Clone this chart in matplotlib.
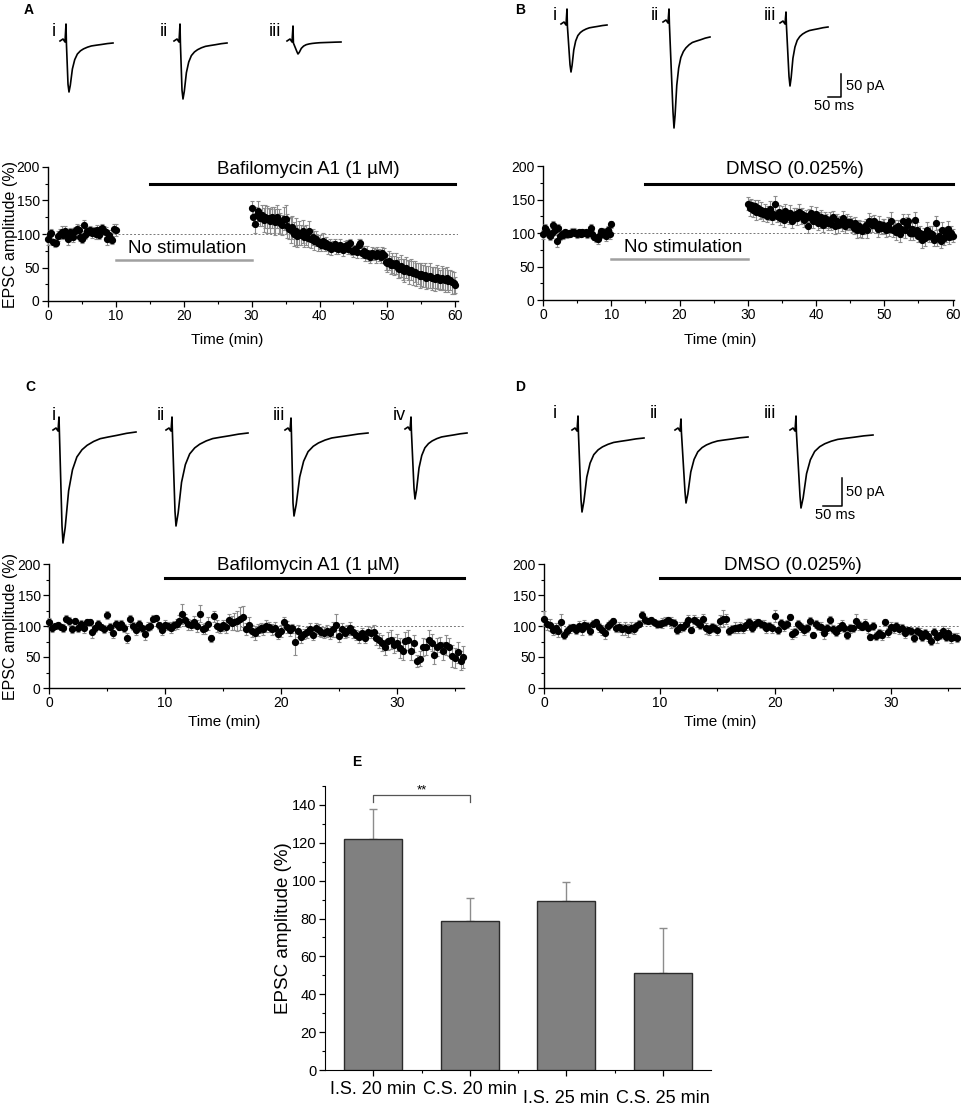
import numpy as np
import matplotlib
matplotlib.use('Agg')
import matplotlib.pyplot as plt
from matplotlib.transforms import blended_transform_factory

plt.rcParams['font.family'] = ['Liberation Sans', 'DejaVu Sans']

W, H = 961, 1108

# ---------------- data ----------------
# Panel A: EPSC amplitude (%) sampled every 0.25 min
a_base = [92, 100, 101, 88, 86, 87, 97, 100, 103, 99, 104, 98, 92, 103, 102, 96,
          104, 108, 106, 95, 93, 113, 99, 104, 103, 106, 101, 104, 100, 106, 99,
          107, 109, 105, 103, 92, 98, 93, 91, 108, 106]
a_base_err = [8, 6, 7, 5, 6, 5, 7, 8, 9, 6, 8, 7, 9, 6, 7, 8, 6, 7, 8, 6, 7, 8, 6,
              7, 5, 6, 7, 6, 8, 7, 6, 5, 6, 7, 8, 9, 8, 7, 6, 7, 9]
a_drug = [139, 126, 115, 128, 134, 124, 128, 121, 126, 122, 124, 120, 125, 121, 118, 126,
          120, 116, 113, 123, 122, 112, 108, 106, 110, 100, 104, 97, 102, 98, 104, 96,
          99, 94, 104, 92, 96, 90, 93, 87, 88, 84, 90, 82, 86, 80, 84, 78,
          82, 85, 79, 77, 84, 80, 76, 82, 84, 78, 86, 75, 74, 77, 73, 84,
          86, 72, 75, 69, 72, 68, 66, 71, 70, 67, 72, 69, 66, 71, 68, 58,
          56, 60, 54, 57, 53, 56, 50, 48, 52, 47, 45, 50, 46, 43, 47, 42,
          44, 40, 41, 38, 40, 37, 39, 35, 36, 38, 34, 35, 33, 36, 34, 32,
          35, 33, 31, 34, 30, 32, 28, 27, 24]
a_drug_err = [10, 12, 14, 13, 15, 12, 16, 18, 17, 20, 15, 18, 16, 19, 20, 17,
              18, 16, 15, 17, 22, 18, 16, 19, 17, 18, 20, 16, 18, 15, 17, 16,
              15, 14, 16, 13, 12, 14, 11, 12, 10, 9, 11, 8, 9, 10, 8, 9,
              7, 8, 9, 7, 8, 7, 9, 8, 7, 8, 6, 7, 8, 7, 9, 8,
              7, 8, 7, 9, 10, 8, 9, 10, 9, 10, 8, 9, 10, 9, 11, 12,
              12, 14, 13, 15, 14, 16, 15, 14, 16, 15, 17, 16, 15, 17, 16, 18,
              16, 17, 15, 18, 17, 16, 18, 17, 16, 18, 17, 16, 18, 17, 16, 15,
              17, 16, 18, 17, 16, 15, 17, 16, 12]

# Panel B
b_base = [98, 108, 104, 100, 95, 100, 112, 104, 88, 107, 96, 99, 97, 101, 98, 100,
          99, 102, 101, 100, 98, 101, 99, 102, 100, 101, 98, 100, 108, 98, 94,
          92, 91, 95, 103, 101, 99, 96, 104, 98, 113]
b_base_err = [7, 6, 5, 6, 5, 7, 6, 5, 9, 6, 7, 5, 6, 5, 6, 5, 4, 5, 6, 4, 5, 4, 5,
              4, 5, 4, 5, 4, 5, 6, 5, 6, 7, 6, 5, 7, 6, 8, 6, 7, 5]
b_drug = [144, 138, 142, 135, 140, 132, 138, 130, 135, 128, 133, 126, 130, 136, 124, 129,
          143, 125, 131, 122, 128, 120, 133, 126, 124, 130, 118, 127, 129, 122, 131, 125,
          128, 120, 126, 110, 124, 130, 118, 122, 128, 115, 120, 124, 112, 122, 118, 115,
          120, 114, 124, 110, 118, 112, 116, 113, 122, 110, 117, 114, 116, 112, 108, 115,
          104, 110, 106, 103, 108, 112, 104, 118, 116, 112, 118, 110, 106, 114, 108, 112,
          110, 104, 112, 106, 118, 104, 108, 102, 110, 98, 106, 118, 104, 112, 118, 100,
          106, 100, 120, 104, 96, 100, 90, 98, 92, 104, 96, 100, 98, 90, 115, 92,
          96, 88, 104, 92, 98, 106, 94, 100, 96]
b_drug_err = [10, 12, 9, 11, 10, 12, 11, 9, 12, 10, 11, 9, 10, 12, 11, 10,
              12, 9, 11, 10, 12, 11, 10, 9, 11, 12, 10, 11, 9, 10, 12, 11,
              10, 11, 9, 10, 12, 11, 10, 9, 11, 10, 12, 11, 10, 9, 11, 10,
              12, 10, 9, 11, 10, 12, 9, 10, 11, 10, 12, 9, 10, 11, 10, 9,
              11, 10, 12, 11, 10, 9, 11, 12, 10, 11, 9, 10, 12, 11, 10, 9,
              11, 10, 12, 11, 13, 10, 11, 12, 10, 11, 12, 10, 11, 12, 10, 11,
              12, 10, 11, 12, 10, 11, 12, 10, 11, 12, 10, 11, 12, 10, 11, 12,
              10, 11, 12, 10, 11, 12, 10, 11, 10]

# Panel C
c_vals = [106, 97, 100, 101, 98, 97, 112, 108, 95, 108, 96, 103, 97, 106, 107, 90,
          96, 103, 98, 95, 118, 98, 89, 104, 99, 103, 97, 81, 111, 100, 94, 103,
          96, 87, 99, 100, 112, 113, 101, 93, 102, 100, 97, 101, 103, 108, 120, 110,
          103, 102, 106, 100, 120, 95, 96, 104, 80, 116, 100, 97, 101, 99, 110, 105,
          107, 108, 112, 115, 95, 102, 92, 89, 94, 97, 95, 100, 98, 95, 97, 87,
          92, 107, 98, 93, 96, 74, 92, 82, 87, 90, 95, 86, 96, 94, 90, 89,
          92, 88, 95, 101, 84, 95, 89, 92, 96, 90, 86, 82, 88, 80, 90, 89,
          91, 80, 77, 72, 66, 76, 78, 70, 73, 65, 60, 76, 78, 60, 72, 44,
          47, 66, 66, 78, 73, 54, 66, 70, 60, 70, 66, 52, 49, 58, 44, 50]
c_err = [7, 6, 5, 6, 5, 6, 5, 7, 6, 5, 6, 7, 8, 6, 5, 10,
         6, 7, 5, 6, 6, 7, 8, 6, 5, 6, 7, 8, 7, 6, 8, 7,
         6, 9, 7, 6, 5, 4, 6, 7, 8, 6, 9, 7, 8, 9, 16, 10,
         9, 8, 10, 9, 14, 8, 9, 10, 6, 9, 10, 8, 9, 10, 9, 11,
         14, 16, 18, 17, 10, 12, 9, 11, 10, 8, 9, 10, 8, 9, 10, 8,
         9, 8, 10, 9, 8, 20, 10, 9, 8, 9, 10, 8, 9, 10, 8, 9,
         10, 9, 12, 18, 9, 10, 8, 9, 10, 9, 8, 10, 9, 8, 10, 9,
         10, 11, 12, 13, 12, 14, 15, 13, 14, 16, 15, 14, 16, 15, 14, 10,
         12, 14, 13, 15, 14, 16, 14, 12, 15, 16, 14, 18, 16, 17, 15, 18]

# Panel D
d_vals = [112, 103, 102, 94, 96, 92, 106, 85, 92, 96, 98, 94, 100, 95, 102, 100,
          92, 104, 107, 98, 94, 88, 100, 104, 108, 97, 98, 95, 96, 93, 97, 95,
          100, 104, 117, 110, 108, 109, 107, 103, 104, 105, 107, 109, 106, 105, 93, 98,
          99, 104, 109, 93, 110, 106, 101, 112, 96, 94, 98, 97, 94, 108, 112, 111,
          92, 95, 97, 96, 99, 97, 102, 106, 97, 104, 106, 103, 102, 97, 100, 96,
          116, 93, 105, 100, 103, 114, 87, 90, 103, 98, 94, 97, 108, 86, 103, 100,
          98, 88, 96, 110, 95, 90, 97, 102, 96, 86, 96, 96, 108, 101, 99, 104,
          96, 82, 100, 84, 88, 86, 106, 90, 98, 96, 100, 95, 96, 89, 93, 92,
          81, 92, 89, 82, 88, 84, 76, 90, 82, 86, 92, 82, 89, 80, 83, 81]
d_err = [12, 9, 10, 8, 9, 10, 14, 6, 7, 8, 6, 7, 8, 9, 7, 6,
         7, 6, 5, 7, 8, 9, 7, 6, 5, 7, 8, 9, 10, 11, 9, 8,
         6, 5, 7, 6, 5, 6, 5, 7, 6, 8, 7, 6, 9, 7, 6, 8,
         7, 6, 8, 5, 7, 8, 6, 7, 9, 8, 7, 6, 8, 9, 14, 8,
         7, 6, 9, 8, 7, 8, 9, 7, 6, 7, 5, 6, 7, 8, 6, 7,
         10, 6, 7, 8, 6, 5, 8, 7, 6, 7, 8, 6, 7, 5, 6, 7,
         8, 9, 7, 6, 7, 6, 8, 7, 6, 7, 8, 6, 11, 7, 6, 8,
         7, 5, 6, 6, 7, 8, 6, 7, 8, 7, 6, 8, 7, 8, 6, 7,
         6, 7, 8, 6, 7, 8, 6, 7, 9, 7, 8, 6, 7, 8, 6, 7]

# Panel E: bar means and upward SEM
e_labels = ['I.S. 20 min', 'C.S. 20 min', 'I.S. 25 min', 'C.S. 25 min']
e_means = [122, 78.5, 89.3, 51.3]
e_sem = [16, 12.5, 10, 23.7]

# EPSC traces in figure pixels: artifact x, artifact top, baseline, peak x, peak y, end x, end y
traces = {
    'A': [(66, 24, 40, 69, 92, 113, 43), (180, 24, 40, 183, 99, 227, 43),
          (293, 26, 40, 298, 54, 341, 42)],
    'B': [(567, 9, 23, 571, 72, 607, 25), (669, 9, 21, 674, 128, 710, 37),
          (786, 12, 22, 790, 86, 828, 27)],
    'C': [(59, 417, 429, 63, 543, 136, 432), (172, 417, 429, 176, 526, 248, 433),
          (291, 418, 429, 294, 516, 368, 433), (411, 417, 428, 415, 499, 467, 433)],
    'D': [(578, 416, 429, 582, 512, 644, 438), (681, 419, 429, 686, 503, 748, 437),
          (796, 416, 429, 801, 508, 873, 435)],
}
trace_names = {
    'A': [('i', 54, 31), ('ii', 164, 31), ('iii', 275, 31)],
    'B': [('i', 555, 15), ('ii', 655, 15), ('iii', 770, 15)],
    'C': [('i', 54, 415), ('ii', 161, 415), ('iii', 279, 415), ('iv', 399, 415)],
    'D': [('i', 555, 413), ('ii', 654, 413), ('iii', 770, 413)],
}
decay_t = [0, 0.03, 0.077, 0.13, 0.19, 0.26, 0.33, 0.42, 0.51, 0.62, 0.74, 0.87, 1.0]
decay_v = [1, 0.86, 0.53, 0.34, 0.225, 0.16, 0.12, 0.085, 0.06, 0.045, 0.03, 0.012, 0]

fig = plt.figure(figsize=(W / 100, H / 100), dpi=100)


def px_axes(l, t, r, b):
    return fig.add_axes([l / W, 1 - b / H, (r - l) / W, (b - t) / H])


def style_time_axes(ax, xmax, xmajor, xminor):
    ax.set_xlim(0, xmax)
    ax.set_ylim(0, 200)
    ax.set_xticks(np.arange(0, xmax, xmajor))
    ax.set_xticks(np.arange(0, xmax, xminor), minor=True)
    ax.set_yticks([0, 50, 100, 150, 200])
    ax.set_yticks([25, 75, 125, 175], minor=True)
    for s in ['top', 'right']:
        ax.spines[s].set_visible(False)
    for s in ['left', 'bottom']:
        ax.spines[s].set_linewidth(1.0)
    ax.tick_params(which='major', direction='out', length=4, width=0.9, labelsize=10, pad=2)
    ax.tick_params(which='minor', direction='out', length=2.5, width=0.8)
    ax.axhline(100, ls=(0, (2, 2)), color='#777777', lw=0.7, zorder=0)


def plot_series(ax, t, v, e):
    ax.errorbar(t, v, yerr=e, fmt='o', color='black', ms=4.2, mec='black',
                ecolor='#8c8c8c', elinewidth=0.8, capsize=1.6, capthick=0.8,
                clip_on=False, zorder=3)


# ---------------- panels A and B ----------------
t_base = np.arange(len(a_base)) * 0.25
t_drug = 30 + np.arange(len(a_drug)) * 0.25

axA = px_axes(48, 167, 458, 301)
style_time_axes(axA, 60.4, 10, 5)
plot_series(axA, t_base, a_base, a_base_err)
plot_series(axA, t_drug, a_drug, a_drug_err)
axA.plot([15, 60], [175, 175], color='black', lw=2.2, clip_on=False)
axA.text(38.4, 197, 'Bafilomycin A1 (1 \u00b5M)', ha='center', va='center', fontsize=13.5)
axA.plot([10, 30], [61, 61], color='#a0a0a0', lw=1.8)
axA.text(20.5, 79, 'No stimulation', ha='center', va='center', fontsize=13.5)

axB = px_axes(543, 166, 954, 300)
style_time_axes(axB, 60.2, 10, 5)
plot_series(axB, t_base, b_base, b_base_err)
plot_series(axB, t_drug, b_drug, b_drug_err)
axB.plot([15, 60], [173, 173], color='black', lw=2.2, clip_on=False)
axB.text(36.9, 195, 'DMSO (0.025%)', ha='center', va='center', fontsize=13.5)
axB.plot([10, 30], [61, 61], color='#a0a0a0', lw=1.8)
axB.text(20.5, 79, 'No stimulation', ha='center', va='center', fontsize=13.5)

# ---------------- panels C and D ----------------
t_cd = np.arange(len(c_vals)) * 0.25

axC = px_axes(49, 564, 464, 688)
style_time_axes(axC, 35.8, 10, 5)
plot_series(axC, t_cd, c_vals, c_err)
axC.plot([10, 35.8], [177, 177], color='black', lw=2.2, clip_on=False)
axC.text(22.4, 198, 'Bafilomycin A1 (1 \u00b5M)', ha='center', va='center', fontsize=13.5)

axD = px_axes(544, 564, 960, 688)
style_time_axes(axD, 36, 10, 5)
plot_series(axD, t_cd, d_vals, d_err)
axD.plot([10, 36], [177, 177], color='black', lw=2.2, clip_on=False)
axD.text(21.5, 198, 'DMSO (0.025%)', ha='center', va='center', fontsize=13.5)

# ---------------- panel E ----------------
axE = px_axes(325, 786, 711, 1070)
xe = np.arange(len(e_means))
axE.bar(xe, e_means, width=0.6, color='#808080', edgecolor='#2b2b2b', lw=1.0, zorder=3)
axE.errorbar(xe, e_means, yerr=[np.zeros(len(e_sem)), e_sem], fmt='none',
             ecolor='#8c8c8c', elinewidth=1.0, capsize=3, capthick=1.0, zorder=2)
axE.set_xlim(-0.5, 3.5)
axE.set_ylim(0, 150)
axE.set_yticks(np.arange(0, 141, 20))
axE.set_yticks(np.arange(10, 160, 20), minor=True)
axE.set_xticks(xe)
axE.set_xticks([0.5, 1.5, 2.5], minor=True)
axE.set_xticklabels([])
for s in ['top', 'right']:
    axE.spines[s].set_visible(False)
axE.tick_params(which='major', direction='out', length=4, width=0.9, labelsize=10.5, pad=2)
axE.tick_params(which='minor', direction='out', length=2.5, width=0.8)
tr = blended_transform_factory(axE.transData, axE.transAxes)
for i, lab in enumerate(e_labels):
    yoff = -0.07 if i < 2 else -0.099
    axE.text(i, yoff, lab, transform=tr, ha='center', va='center', fontsize=13)
axE.plot([0, 0, 1, 1], [141.5, 145, 145, 141.5], color='#555555', lw=0.9, clip_on=False)
axE.text(0.5, 147.5, '**', ha='center', va='center', fontsize=9.5)
fig.text(283 / W, 1 - 928 / H, 'EPSC amplitude (%)', rotation=90, ha='center',
         va='center', fontsize=13.5)

# ---------------- overlay: traces, labels ----------------
ov = fig.add_axes([0, 0, 1, 1], zorder=10)
ov.set_xlim(0, W)
ov.set_ylim(H, 0)
ov.axis('off')

for key, lst in traces.items():
    for ax_, top, base, pkx, pky, ex, ey in lst:
        xs = [ax_ - 6, ax_ - 3, ax_ - 1, ax_, ax_ + 0.4, pkx - 1.0]
        ys = [base + 1, base - 1, base + 2, top, base + 3, base + 0.85 * (pky - base)]
        for f, v in zip(decay_t, decay_v):
            xs.append(pkx + f * (ex - pkx))
            ys.append(ey + v * (pky - ey))
        ov.plot(xs, ys, color='black', lw=1.2, solid_joinstyle='round')
for key, lst in trace_names.items():
    for name, x, y in lst:
        ov.text(x, y, name, ha='center', va='center', fontsize=13)

# scale bars
ov.plot([828, 841, 841], [97, 97, 74], color='black', lw=1.1)
ov.text(846, 86, '50 pA', ha='left', va='center', fontsize=10.5)
ov.text(814, 106, '50 ms', ha='left', va='center', fontsize=10.5)
ov.plot([823, 842, 842], [506, 506, 478], color='black', lw=1.1)
ov.text(846, 492, '50 pA', ha='left', va='center', fontsize=10.5)
ov.text(815, 515, '50 ms', ha='left', va='center', fontsize=10.5)

# axis titles
ov.text(11, 235, 'EPSC amplitude (%)', rotation=90, ha='center', va='center', fontsize=11.5)
ov.text(11, 627, 'EPSC amplitude (%)', rotation=90, ha='center', va='center', fontsize=11.5)
for x, y in [(227, 340), (720, 340), (224, 722), (720, 722)]:
    ov.text(x, y, 'Time (min)', ha='center', va='center', fontsize=11)

# panel letters
for lab, x, y in [('A', 29, 10), ('B', 520, 10), ('C', 30, 387), ('D', 520, 387), ('E', 357, 762)]:
    ov.text(x, y, lab, ha='center', va='center', fontsize=10, fontweight='bold')

fig.savefig('out.png', dpi=100)
